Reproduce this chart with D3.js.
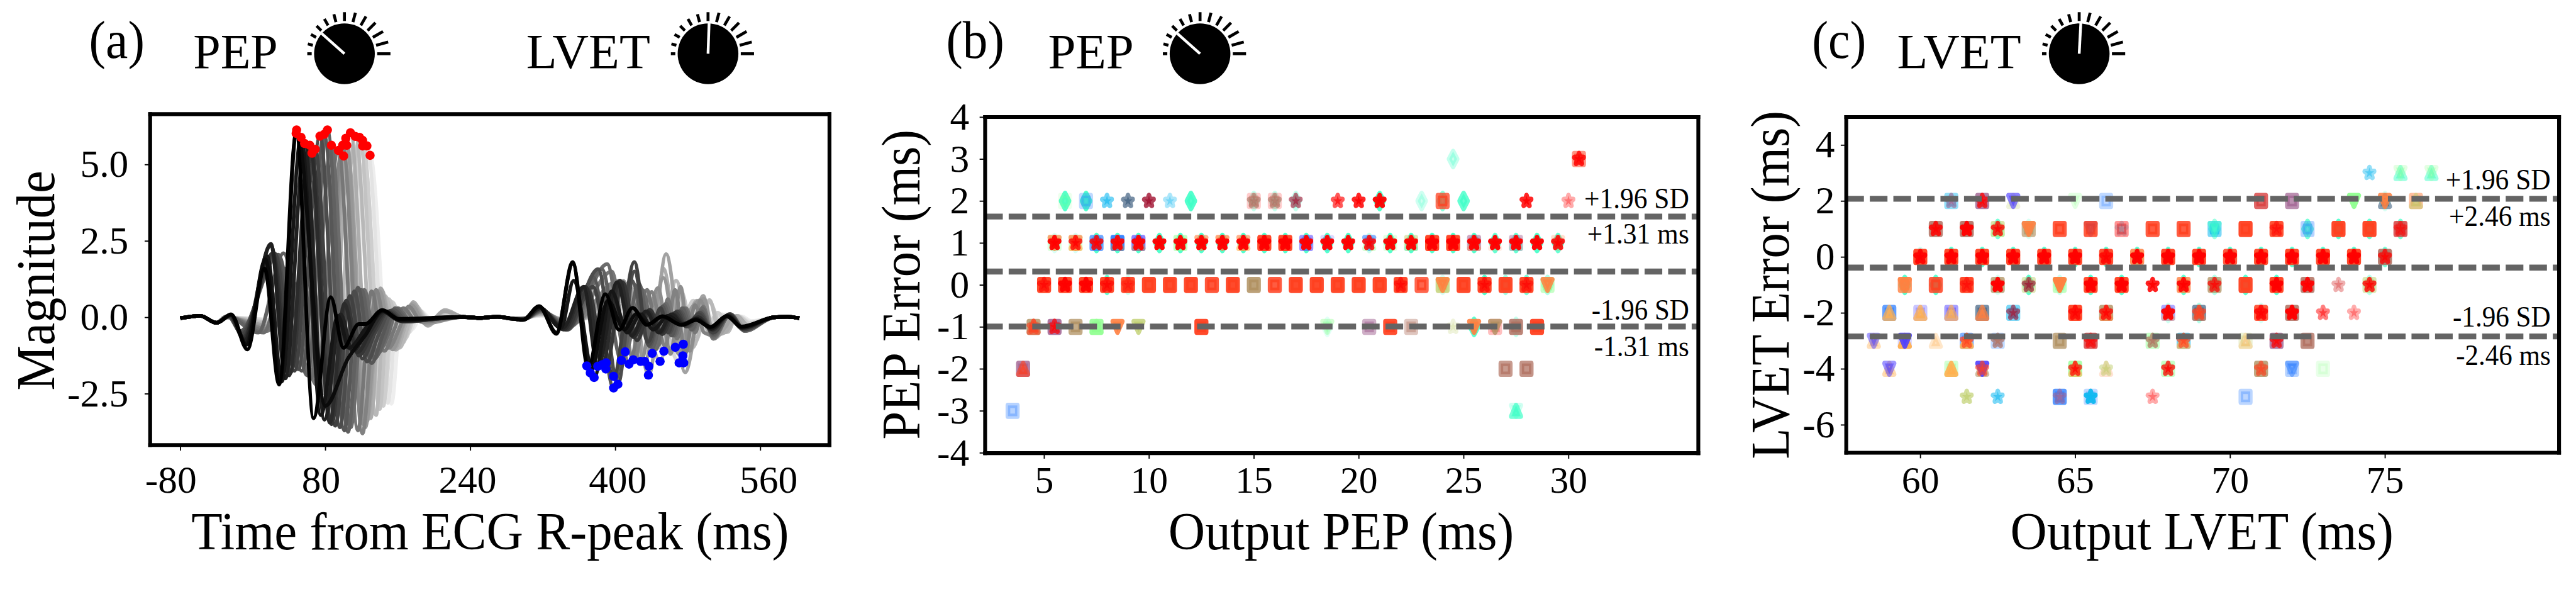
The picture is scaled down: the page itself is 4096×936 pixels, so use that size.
<!DOCTYPE html>
<html><head><meta charset="utf-8">
<script src="https://cdn.jsdelivr.net/npm/d3@7"></script>
<style>html,body{margin:0;padding:0;background:#fff}svg{display:block}text{font-family:"Liberation Serif","Times New Roman",serif;fill:#000}</style>
</head><body><svg id="c"></svg>
<script>
// ---------- Panel (a) data: time (ms), magnitude extrema of each beat, dark to light
const waveLead=[[-80,-.03],[-58,.05],[-40,-.18]];
const waveMid=[[232,.01],[250,-.02],[270,.02],[288,-.05]];
const waveTail=[[575,0],[590,.02],[603,-.03]];
const pepWaves=[
[[-24,.1],[-6,-1.05],[13,1.6],[29,-2.2],[47.8,6.02],[67,-3.3],[86,.66],[100,-1],[117,-.22],[124,-.22],[143,.24],[161,-.05]],
[[-24,.09],[-7,-.9],[14,1.9],[30,-2.1],[48.3,6.13],[80,-2.9],[105,-1.35],[125,-.55],[143,.22],[162,-.08]],
[[-24,.08],[-8,-.85],[16,2],[32,-2.1],[53.2,5.89],[75,-3.2],[94,.05],[106,-1],[126,-.3],[143,.2],[162,-.1]],
[[-24,.07],[-9,-.75],[20,2.4],[36,-2],[57.1,5.69],[79,-3.35],[97,.1],[110,-1.1],[128,-.35],[145,.2],[163,-.12]],
[[-25,.06],[-10,-.7],[20,2.35],[40,-1.9],[62.9,5.63],[85,-3.45],[101,.45],[115,-1.15],[131,-.4],[147,.2],[165,-.12]],
[[-25,.05],[-11,-.65],[22,2.1],[42,-1.8],[65.3,5.37],[87,-3.5],[103,.55],[117,-1.25],[133,-.45],[148,.18],[166,-.14]],
[[-26,.04],[-12,-.55],[24,2.1],[46,-1.75],[68.8,5.5],[91,-3.55],[107,.7],[121,-1.35],[135,-.5],[150,.2],[167,-.14]],
[[-26,.03],[-13,-.5],[25,2.05],[50,-1.7],[74.1,5.93],[96,-3.6],[112,.85],[126,-1.45],[139,-.55],[152,.22],[168,-.12]],
[[-27,.03],[-14,-.45],[28,2.05],[54,-1.75],[78.8,5.99],[101,-3.7],[116,.97],[131,-1.5],[143,-.6],[155,.25],[170,-.1]],
[[-28,.02],[6,-.5],[34,2.1],[60,-1.9],[82.3,6.13],[105,-3.75],[120,.9],[134,-1.35],[146,-.65],[157,.3],[172,-.1]],
[[-28,.02],[12,-.5],[36,1.6],[64,-2],[86.7,5.63],[108,-3.6],[123,.9],[137,-1.2],[149,-.6],[160,.3],[174,-.1]],
[[-30,.02],[16,-.45],[42,1.3],[70,-2.2],[94.4,5.46],[116,-3.7],[131,.85],[145,-1.1],[156,-.4],[166,.3],[180,-.1]],
[[-30,.01],[18,-.4],[46,1.1],[75,-2.3],[99.1,5.63],[121,-3.8],[136,.9],[150,-1],[161,-.4],[172,.35],[186,-.15]],
[[-30,.01],[20,-.4],[48,1],[77,-2.4],[100.2,5.28],[122,-3.5],[137,.75],[151,-.95],[162,-.35],[172,.35],[187,-.15]],
[[-30,.01],[20,-.35],[50,1],[79,-2.5],[102.6,5.86],[124,-3.6],[140,.85],[154,-1.05],[165,-.3],[175,.4],[190,-.2]],
[[-30,0],[22,-.3],[52,.9],[81,-2.5],[103.7,5.63],[126,-3.4],[141,.95],[156,-1.05],[166,-.3],[176,.45],[192,-.25],[211,.2]],
[[-30,0],[24,-.3],[56,.9],[85,-2.7],[107.7,6.04],[130,-3.3],[142,.9],[158,-1.06],[168,-.3],[177,.5],[193,-.28],[212,.24]],
[[-30,0],[26,-.25],[60,.8],[90,-2.7],[113.1,5.92],[136,-3.2],[146,.7],[162,-1],[171,-.3],[178,.45],[194,-.25],[212,.2]],
[[-30,0],[28,-.2],[64,.7],[94,-2.6],[117.7,5.89],[140,-3],[150,.6],[165,-.85],[173,-.25],[179,.4],[195,-.2],[213,.18]],
[[-30,0],[30,-.2],[68,.7],[98,-2.6],[121.2,5.79],[144,-2.9],[154,.5],[168,-.7],[175,-.2],[180,.35],[195,-.15],[213,.15]],
[[-30,0],[30,-.15],[68,.6],[98,-2.5],[121.2,5.61],[145,-2.7],[156,.4],[169,-.6],[176,-.15],[181,.3],[196,-.1],[214,.12]],
[[-30,0],[32,-.1],[72,.5],[102,-2.4],[125.9,5.61],[149,-2.8],[160,.3],[172,-.5],[179,-.1],[183,.25],[196,-.1],[214,.1]],
[[-30,0],[34,-.1],[76,.4],[106,-2.4],[129.4,5.3],[153,-2.83],[164,.2],[175,-.4],[182,-.1],[186,.2],[197,-.08],[215,.08]]
];
const lvetWaves=[
[[298,-.09],[316,.37],[335,-.54],[353,1.81],[370,-1.65],[389,.76],[404,-.41],[419,.31],[435,-.25],[452,.04],[473,-.25],[489,-.09],[505,-.31],[523,.04],[539,-.31]],
[[298,-.08],[316,.35],[335,-.5],[353,1.75],[372,-1.82],[392,.55],[410,-.4],[423,.1],[437,-.22],[452,.02],[473,-.25],[489,-.08],[505,-.33],[523,.03],[539,-.3]],
[[299,-.08],[316,.33],[340,-.35],[354,1.2],[376.6,-1.97],[396,.85],[413,-.5],[428,.1],[442,-.4],[458,.05],[474,-.22],[490,-.05],[506,-.36],[524,.05],[540,-.33]],
[[299,-.07],[317,.3],[342,-.35],[365,1],[380.6,-1.6],[402,1.15],[418,-.6],[434,.2],[448,-.5],[462,.1],[475,-.25],[490,-.05],[506,-.38],[524,.06],[540,-.35]],
[[299,-.07],[317,.3],[343,-.4],[367,1],[385.3,-1.55],[405,1.2],[420,-.65],[436,.2],[450,-.5],[464,.1],[476,-.25],[491,0],[507,-.4],[525,.08],[541,-.35]],
[[299,-.06],[317,.28],[345,-.4],[370,.9],[389.5,-1.69],[408,1.15],[424,-.75],[438,.25],[452,-.55],[466,.15],[477,-.25],[492,0],[507,-.42],[525,.08],[541,-.36]],
[[300,-.06],[317,.26],[346,-.4],[375,1],[398.1,-1.93],[421,1.81],[436,-.8],[450,.3],[458,-.5],[468,.2],[478,-.3],[492,.1],[508,-.5],[526,.1],[542,-.4]],
[[300,-.05],[318,.25],[347,-.4],[381,1.58],[402.8,-2.19],[421,1.5],[437,-.9],[450,.3],[460,-.5],[470,.2],[480,-.3],[493,.15],[508,-.5],[526,.1],[542,-.4]],
[[300,-.05],[318,.24],[348,-.4],[376,1.3],[398.1,-2.31],[418,1.2],[438,-.95],[452,.35],[462,-.6],[472,.2],[482,-.3],[494,.15],[508,-.55],[526,.1],[542,-.42]],
[[300,-.05],[318,.22],[349,-.35],[385,1.58],[406.7,-1.41],[426,1.1],[441,-1],[454,.4],[464,-.6],[474,.3],[484,-.4],[495,.2],[508,-.6],[527,.1],[543,-.42]],
[[300,-.05],[318,.2],[350,-.3],[391,1.74],[410.9,-1.13],[430,.9],[445,-1.05],[456,.45],[466,-.6],[476,.3],[486,-.4],[496,.3],[508,-.65],[527,.1],[543,-.45]],
[[300,-.05],[318,.2],[350,-.3],[396,1.5],[415.1,-1.53],[435,.9],[448,-.9],[458,.6],[468,-.7],[478,.3],[488,-.5],[497,.35],[508,-.7],[527,.1],[543,-.45]],
[[300,-.05],[318,.18],[350,-.25],[403,1.19],[419.8,-1.39],[440,.83],[455,-.95],[466,.9],[477,-1.2],[488,.4],[498,-.5],[510,-.6],[526,.08],[542,-.42]],
[[300,-.04],[318,.18],[350,-.2],[409,1.19],[427.9,-1.44],[447,.96],[461,-1.2],[472,1],[482,-1.1],[494,.55],[508,-.7],[524,.05],[541,-.4]],
[[300,-.04],[318,.15],[350,-.2],[412,1.1],[432.4,-1.44],[453,1.29],[470,-1.2],[484,.3],[498,.6],[509,-.7],[524,.02],[542,-.38]],
[[300,-.04],[318,.15],[350,-.18],[416,1],[437,-1.89],[456,2.07],[477,-1.8],[497,.7],[508,-.7],[522,-.3],[530,.05],[544,-.35]],
[[300,-.03],[318,.12],[350,-.15],[420,.9],[440.7,-1.18],[453,1.6],[470,-1],[490,.55],[506,-.6],[522,-.48],[534,.05],[548,-.3]],
[[300,-.03],[318,.12],[350,-.15],[425,.8],[449.4,-1.44],[467,1.2],[485,-1],[504,.57],[515,-.5],[524,-.48],[534,.05],[546,-.28]],
[[300,-.03],[318,.1],[350,-.12],[430,.7],[453.6,-1.11],[472,.9],[488,-.8],[504,.5],[518,-.4],[528,0],[545,-.25]],
[[300,-.02],[318,.08],[350,-.1],[440,.6],[466.2,-.98],[486,.55],[500,-.4],[513,.15],[525,-.3],[535,.05],[548,-.2]],
[[300,-.02],[318,.08],[350,-.08],[445,.6],[470.4,-1.49],[488,.45],[503,-.35],[515,.1],[526,-.25],[536,.05],[548,-.18]],
[[300,-.02],[318,.06],[350,-.06],[448,.5],[475,-.88],[492,.4],[506,-.3],[518,.1],[528,-.2],[537,.03],[549,-.15]],
[[300,-.02],[318,.05],[350,-.05],[450,.5],[475.5,-1.49],[497,.6],[510,-.3],[522,.1],[531,-.15],[540,.03],[550,-.12]]
];
const redPeaks=[[48.3,6.13],[47.8,6.02],[53.2,5.89],[57.1,5.69],[62.9,5.63],[68.8,5.5],[65.3,5.37],[74.1,5.93],[78.8,5.99],[82.3,6.13],[86.7,5.63],[94.4,5.46],[99.1,5.63],[100.2,5.28],[103.7,5.63],[102.6,5.86],[107.7,6.04],[113.1,5.92],[117.7,5.89],[121.2,5.79],[121.2,5.61],[125.9,5.61],[129.4,5.3]];
const blueTroughs=[[368.5,-1.59],[372.4,-1.82],[376.6,-1.97],[380.6,-1.6],[385.3,-1.55],[389.9,-1.49],[389.5,-1.69],[398.1,-1.93],[402.8,-2.19],[398.1,-2.31],[406.7,-1.41],[410.9,-1.13],[415.1,-1.53],[419.8,-1.39],[427.9,-1.44],[432.4,-1.44],[437,-1.6],[436.5,-1.89],[440.7,-1.18],[449.4,-1.44],[453.6,-1.11],[466.2,-.98],[475,-.88],[474.5,-1.26],[470.4,-1.49],[475.5,-1.49]];
const timeTicks=[-80,80,240,400,560];
const magTicks=[5,2.5,0,-2.5];
const magLabels=["5.0","2.5","0.0","-2.5"];

// ---------- marker colours
const palette={R:'#ff0000',O:'#ff4020',E:'#d84040',A:'#ff8040',Y:'#ffb050',T:'#40ffc8',B:'#3080ff',I:'#5040ff',C:'#10b8f0',G:'#90ff90',L:'#c0d070',N:'#b09060',M:'#a06090',W:'#406080',K:'#a01030',Z:'#b07060',P:'#ffc8a8'};

// ---------- Panel (b) data: [output PEP, error, colour, opacity]
const pepSquares=[[30.5,3,'O',.55],[6,2,'G',.15],[7,2,'B',.3],[15,2,'R',.2],[16,2,'R',.2],[24,2,'O',.75],
[5.5,1,'G',.3],[6.5,1,'G',.3],[7.5,1,'B',.7],[8.5,1,'B',.95],[9.5,1,'I',.65],[11.5,1,'G',.55],[15.5,1,'O',.95],[16.5,1,'O',.95],[17.5,1,'I',.55],[21.5,1,'G',.25],[22.5,1,'L',.5],[23.5,1,'O',.95],[24.5,1,'O',.95],[25.5,1,'M',.55],[27.5,1,'M',.45],
[5,0,'O',.95],[6,0,'O',.95],[7,0,'O',.95],[8,0,'O',.95],[9,0,'O',.95],[10,0,'O',.95],[11,0,'O',.95],[12,0,'O',.95],[13,0,'O',.88],[14,0,'O',.95],[15,0,'N',.85],[16,0,'O',.85],[17,0,'O',.95],[18,0,'O',.95],[19,0,'O',.95],[20,0,'O',.95],[21,0,'O',.95],[22,0,'O',.95],[23,0,'O',.8],[24,0,'L',.8],[25,0,'O',.95],[26,0,'O',.95],[27,0,'O',.95],[28,0,'O',.95],[29,0,'G',.5],
[4.5,-1,'N',.8],[5.5,-1,'M',.85],[6.5,-1,'N',.75],[7.5,-1,'G',.85],[12.5,-1,'O',.95],[20.5,-1,'M',.5],[21.5,-1,'O',.92],[22.5,-1,'Z',.4],[26.5,-1,'R',.25],[27.5,-1,'Z',.85],[28.5,-1,'O',.95],
[4,-2,'M',.8],[27,-2,'Z',.7],[28,-2,'Z',.75],[3.5,-3,'B',.35]];
const pepDiamonds=[[24.5,3,'T',.3],[6,2,'T',.9],[7,2,'T',.92],[12,2,'T',.9],[15,2,'T',.3],[16,2,'T',.3],[17,2,'T',.3],[21,2,'T',.9],[23,2,'T',.25],[24,2,'T',.6],[25,2,'T',.8],
[5.5,1,'T',.2],[6.5,1,'T',.2],[7.5,1,'T',.9],[8.5,1,'T',.9],[9.5,1,'T',.9],[10.5,1,'T',.9],[11.5,1,'T',.9],[12.5,1,'T',.9],[13.5,1,'T',.9],[14.5,1,'T',.9],[15.5,1,'T',.9],[16.5,1,'T',.9],[17.5,1,'T',.9],[18.5,1,'T',.9],[19.5,1,'T',.9],[20.5,1,'T',.3],[21.5,1,'T',.9],[22.5,1,'T',.9],[23.5,1,'T',.9],[24.5,1,'T',.9],[25.5,1,'T',.9],[26.5,1,'T',.8],[27.5,1,'T',.8],[28.5,1,'T',.9],[29.5,1,'T',.8],
[8,0,'T',.8],[9,0,'T',.25],[24,0,'T',.2],[26,0,'T',.9],[27,0,'T',.5],[28,0,'T',.7],[29,0,'T',.4],[18.5,-1,'T',.15],[25.5,-1,'T',.85],[27.5,-1,'T',.3]];
const pepUps=[[6.5,1,'Y',.7],[8.5,1,'N',.5],[9.5,1,'N',.6],[14.5,1,'Y',.6],[20.5,1,'G',.4],[22.5,1,'T',.4],[25.5,1,'A',.4],[26.5,1,'A',.15],[27.5,1,'T',.3],[4.5,-1,'O',.5],[7.5,-1,'G',.5],[4,-2,'O',.6],[27.5,-3,'T',.7]];
const pepDowns=[[5.5,1,'A',.7],[6.5,1,'A',.7],[12.5,1,'A',.6],[13.5,1,'A',.7],[14.5,1,'A',.6],[18.5,1,'I',.2],[20.5,1,'B',.6],[29.5,1,'A',.25],[24,0,'A',.85],[29,0,'A',.85],[8.5,-1,'A',.9],[9.5,-1,'L',.8],[18.5,-1,'G',.4],[25.5,-1,'A',.9],[26.5,-1,'N',.8],[27.5,-3,'T',.25]];
const pepStars=[[30.5,3,'R',.8],[8,2,'C',.6],[9,2,'W',.7],[10,2,'K',.8],[11,2,'C',.35],[15,2,'Z',.6],[16,2,'Z',.6],[17,2,'K',.6],[19,2,'R',.65],[20,2,'R',.85],[21,2,'R',.95],[28,2,'R',.85],[30,2,'R',.33],
[5.5,1,'R',.95],[6.5,1,'R',.78],[7.5,1,'R',.85],[8.5,1,'R',.92],[9.5,1,'R',.95],[10.5,1,'R',.97],[11.5,1,'R',.97],[12.5,1,'R',.97],[13.5,1,'R',.97],[14.5,1,'R',.97],[15.5,1,'R',.97],[16.5,1,'R',.97],[17.5,1,'R',.97],[18.5,1,'R',.97],[19.5,1,'R',.97],[20.5,1,'R',.85],[21.5,1,'R',.97],[22.5,1,'R',.97],[23.5,1,'R',.97],[24.5,1,'R',.97],[25.5,1,'R',.97],[26.5,1,'R',.97],[27.5,1,'R',.97],[28.5,1,'R',.97],[29.5,1,'R',.88],
[5,0,'R',.6],[6,0,'R',.95],[7,0,'R',.95],[8,0,'R',.65],[9,0,'R',.35],[22,0,'R',.6],[26,0,'R',.65],[28,0,'R',.55],[4.5,-1,'O',.6],[5.5,-1,'R',.7],[24.5,-1,'L',.25]];
const pepLimits=[1.63,.32,-.99];
const pepXTicks=[5,10,15,20,25,30];
const pepYTicks=[4,3,2,1,0,-1,-2,-3,-4];

// ---------- Panel (c) data: [output LVET, error, colour, opacity]
const lvetSquares=[[61,2,'C',.45],[62,2,'M',.8],[66,2,'B',.3],[71,2,'E',.8],[72,2,'M',.7],[76,2,'A',.5],
[60.5,1,'Z',.85],[61.5,1,'Z',.9],[62.5,1,'L',.6],[63.5,1,'N',.65],[64.5,1,'O',.85],[65.5,1,'O',.85],[66.5,1,'R',.42],[67.5,1,'O',.85],[68.5,1,'O',.85],[69.5,1,'C',.55],[70.5,1,'O',.95],[71.5,1,'O',.9],[72.5,1,'B',.35],[73.5,1,'O',.95],[74.5,1,'O',.95],[75.5,1,'E',.85],
[60,0,'O',.95],[61,0,'O',.95],[62,0,'O',.95],[63,0,'O',.95],[64,0,'O',.95],[65,0,'O',.95],[66,0,'O',.92],[67,0,'A',.85],[68,0,'O',.95],[69,0,'O',.95],[70,0,'O',.85],[71,0,'O',.92],[72,0,'O',.95],[73,0,'O',.95],[74,0,'O',.95],[75,0,'Z',.9],
[59.5,-1,'A',.8],[60.5,-1,'O',.85],[61.5,-1,'O',.95],[62.5,-1,'N',.75],[63.5,-1,'L',.5],[64.5,-1,'G',.55],[65.5,-1,'O',.92],[66.5,-1,'O',.95],[68.5,-1,'A',.8],[69.5,-1,'N',.75],[70.5,-1,'O',.95],[71.5,-1,'O',.95],[72.5,-1,'Z',.85],[74.5,-1,'L',.55],
[59,-2,'B',.75],[60,-2,'I',.3],[61,-2,'I',.5],[62,-2,'W',.7],[63,-2,'C',.55],[65,-2,'O',.95],[66,-2,'N',.8],[68,-2,'I',.45],[69,-2,'W',.7],[71,-2,'O',.85],[72,-2,'Z',.85],
[59.5,-3,'I',.2],[61.5,-3,'B',.6],[62.5,-3,'B',.3],[64.5,-3,'N',.75],[65.5,-3,'E',.85],[67.5,-3,'G',.5],[68.5,-3,'C',.6],[70.5,-3,'L',.3],[71.5,-3,'M',.8],[72.5,-3,'Z',.8],
[61,-4,'G',.4],[65,-4,'G',.75],[68,-4,'G',.5],[71,-4,'N',.8],[72,-4,'B',.35],[73,-4,'G',.2],
[64.5,-5,'B',.8],[65.5,-5,'B',.3],[70.5,-5,'B',.32]];
const lvetDiamonds=[[62.5,1,'T',.7],[63.5,1,'T',.2],[69.5,1,'T',.5],[72.5,1,'T',.7],[73.5,1,'T',.85],[74.5,1,'T',.8],[75.5,1,'T',.7],
[60,0,'T',.25],[61,0,'T',.85],[62,0,'T',.85],[63,0,'T',.85],[64,0,'T',.85],[65,0,'T',.85],[66,0,'T',.85],[67,0,'T',.85],[68,0,'T',.85],[69,0,'T',.85],[70,0,'T',.85],[71,0,'T',.85],[72,0,'T',.85],[73,0,'T',.85],[74,0,'T',.85],[75,0,'T',.7],
[59.5,-1,'T',.85],[60.5,-1,'T',.85],[62.5,-1,'T',.2],[63.5,-1,'T',.85],[64.5,-1,'T',.25],[65.5,-1,'T',.85],[66.5,-1,'T',.85],[68.5,-1,'T',.8],[69.5,-1,'T',.4],[70.5,-1,'T',.85],[71.5,-1,'T',.85],[74.5,-1,'T',.35],
[68,-2,'T',.25],[69,-2,'T',.4],[71,-2,'T',.2],[75,2,'T',.2]];
const lvetUps=[[75.5,3,'T',.5],[76.5,3,'T',.5],[63,2,'L',.25],[75,2,'W',.6],[76,2,'L',.5],[62.5,1,'G',.4],[59,-2,'Y',.75],[60,-2,'Y',.75],[61,-2,'Y',.65],[62,-2,'A',.75],[66,-2,'A',.6],[68,-2,'Y',.4],[69,-2,'A',.4],
[58.5,-3,'Y',.4],[59.5,-3,'Y',.95],[60.5,-3,'Y',.3],[61.5,-3,'Y',.9],[68.5,-3,'Y',.7],[70.5,-3,'Y',.3],[59,-4,'Y',.45],[61,-4,'Y',.9],[62,-4,'N',.6],[65,-4,'Y',.6],[66,-4,'P',.5]];
const lvetDowns=[[75.5,3,'G',.25],[76.5,3,'G',.25],[63,2,'I',.65],[65,2,'G',.25],[74,2,'G',.95],[75,2,'A',.85],[63.5,1,'A',.85],[69.5,1,'T',.5],[65.5,1,'E',.5],[59.5,-1,'A',.7],[64.5,-1,'A',.97],[72,-4,'B',.5],[58.5,-3,'I',.5],[59.5,-3,'I',.9],[59,-4,'I',.55],[62,-4,'I',.9]];
const lvetStars=[[74.5,3,'C',.45],[61,2,'M',.6],[62,2,'R',.75],[60.5,1,'R',.85],[61.5,1,'R',.97],[62.5,1,'R',.8],[66.5,1,'W',.2],[71.5,1,'R',.5],[75.5,1,'R',.5],
[60,0,'R',.9],[61,0,'R',.97],[62,0,'R',.97],[63,0,'R',.97],[64,0,'R',.97],[65,0,'R',.97],[66,0,'R',.8],[67,0,'R',.97],[68,0,'R',.97],[69,0,'R',.97],[70,0,'R',.97],[71,0,'R',.97],[72,0,'R',.97],[73,0,'R',.97],[74,0,'R',.97],[75,0,'R',.75],
[61.5,-1,'R',.5],[62.5,-1,'R',.97],[63.5,-1,'K',.65],[65.5,-1,'R',.97],[66.5,-1,'R',.97],[67.5,-1,'R',.88],[68.5,-1,'R',.9],[69.5,-1,'R',.7],[71.5,-1,'R',.97],[72.5,-1,'R',.92],[73.5,-1,'E',.42],[74.5,-1,'R',.8],
[63,-2,'K',.62],[65,-2,'R',.75],[66,-2,'R',.75],[68,-2,'R',.95],[69,-2,'O',.75],[71,-2,'R',.8],[72,-2,'R',.97],[73,-2,'R',.5],[74,-2,'R',.32],
[61.5,-3,'O',.7],[62.5,-3,'Z',.7],[65.5,-3,'R',.6],[67.5,-3,'Z',.7],[68.5,-3,'O',.65],[71.5,-3,'R',.7],
[62,-4,'O',.65],[65,-4,'R',.7],[66,-4,'L',.5],[68,-4,'R',.75],[71,-4,'O',.65],
[61.5,-5,'L',.7],[62.5,-5,'C',.55],[64.5,-5,'M',.55],[65.5,-5,'C',.95],[67.5,-5,'R',.33]];
const lvetLimits=[2.08,-.38,-2.84];
const lvetXTicks=[60,65,70,75];
const lvetYTicks=[4,2,0,-2,-4,-6];

// ---------- Knobs: [centre x, needle angle in degrees]
const knobTicks=[180,165,150,135,120,105,90,75,60,45,30,15,0];
const knobs=[[936,138.3],[1924,88],[3261,138.3],[5650,87]];

// ---------- drawing
const svg=d3.select('#c').attr('width',4096).attr('height',936).attr('viewBox','0 0 7000 1600').attr('preserveAspectRatio','none');
svg.append('rect').attr('width',7000).attr('height',1600).attr('fill','#fff');

function label(x,y,str,size,len,anchor,rot){
  const t=svg.append('text').text(str).attr('font-size',size).attr('text-anchor',anchor||'start');
  if(rot) t.attr('transform',`translate(${x},${y}) rotate(-90)`); else t.attr('x',x).attr('y',y);
  if(len) t.attr('textLength',len).attr('lengthAdjust','spacingAndGlyphs');
  return t;
}
function frame(f,xs,ys,xt,yt,opts){
  const gx=svg.append('g').attr('transform',`translate(0,${f.b})`).call(d3.axisBottom(xs).tickValues(xt).tickSize(15).tickFormat((d,i)=>opts.xFmt?opts.xFmt[i]:String(d)));
  const gy=svg.append('g').attr('transform',`translate(${f.l},0)`).call(d3.axisLeft(ys).tickValues(yt).tickSize(15).tickFormat((d,i)=>opts.yFmt?opts.yFmt[i]:String(d)));
  [gx,gy].forEach(g=>{g.select('.domain').remove();g.selectAll('line').attr('stroke','#000').attr('stroke-width',3.2);g.attr('font-family',null);});
  gx.selectAll('text').attr('font-size',opts.xSize||102).attr('dy',0).attr('y',1339-f.b).attr('x',(d,i)=>opts.xShift?opts.xShift[i]:0);
  gy.selectAll('text').attr('font-size',105).attr('dy','.32em').attr('x',opts.yEnd-f.l);
}
function spines(f){
  const g=svg.append('g').attr('stroke','#000').attr('stroke-width',10.5).attr('stroke-linecap','square');
  [[f.l,f.t,f.r,f.t],[f.l,f.b,f.r,f.b],[f.l,f.t,f.l,f.b],[f.r,f.t,f.r,f.b]].forEach(s=>g.append('line').attr('x1',s[0]).attr('y1',s[1]).attr('x2',s[2]).attr('y2',s[3]));
}
// Marker shapes follow matplotlib's unit paths; size sets the square side squared.
const poly=pts=>({draw(c,s){const r=Math.sqrt(s)/2;pts.forEach((p,i)=>i?c.lineTo(p[0]*r,p[1]*r):c.moveTo(p[0]*r,p[1]*r));c.closePath();}});
const shapes={
  square:poly([[-1,-1],[1,-1],[1,1],[-1,1]]),
  diamond:poly([[0,-1.414],[.85,0],[0,1.414],[-.85,0]]),
  up:poly([[0,-1],[1,1],[-1,1]]),
  down:poly([[0,1],[1,-1],[-1,-1]]),
  star:d3.symbolStar
};
const MARK=25.5;
function markers(xs,ys,rows,shape){
  const size=shape==='star'?(MARK/2*1.03)*(MARK/2*1.03)/0.8908:MARK*MARK;
  const gen=d3.symbol().type(shapes[shape]).size(size);
  svg.append('g').selectAll('path').data(rows).join('path').attr('d',gen)
    .attr('transform',d=>`translate(${xs(d[0])},${ys(d[1])}) scale(1,1.15)`)
    .attr('fill',d=>palette[d[2]]).attr('stroke',d=>palette[d[2]])
    .attr('fill-opacity',d=>d[3]).attr('stroke-opacity',d=>d[3])
    .attr('stroke-width',12.7).attr('stroke-linejoin','round');
}
function limits(f,ys,vals){
  svg.append('g').selectAll('line').data(vals).join('line').attr('x1',f.l).attr('x2',f.r-3).attr('y1',d=>ys(d)).attr('y2',d=>ys(d))
    .attr('stroke','#646464').attr('stroke-width',16).attr('stroke-dasharray','48 16');
}
function knob(k){
  const g=svg.append('g').attr('transform',`translate(${k[0]},146)`);
  g.append('circle').attr('r',82.5).attr('fill','#000');
  g.selectAll('line.t').data(knobTicks).join('line').attr('class','t')
    .attr('x1',d=>89*Math.cos(d*Math.PI/180)).attr('y1',d=>-89*Math.sin(d*Math.PI/180))
    .attr('x2',(d,i)=>(101+i*2)*Math.cos(d*Math.PI/180)).attr('y2',(d,i)=>-(101+i*2)*Math.sin(d*Math.PI/180))
    .attr('stroke','#000').attr('stroke-width',8);
  g.append('line').attr('x1',0).attr('y1',0).attr('x2',83*Math.cos(k[1]*Math.PI/180)).attr('y2',-83*Math.sin(k[1]*Math.PI/180)).attr('stroke','#fff').attr('stroke-width',7.5);
}
knobs.forEach(knob);

// Panel a
const fa={l:408,r:2254,t:310,b:1209};
const xa=d3.scaleLinear().domain([-113.3,636.3]).range([fa.l,fa.r]);
const ya=d3.scaleLinear().domain([-4.18,6.65]).range([fa.b,fa.t]);
frame(fa,xa,ya,timeTicks,magTicks,{yFmt:magLabels,yEnd:349,xSize:105,xShift:[-26,-12,-8,6,22]});
const line=d3.line().x(d=>xa(d[0])).y(d=>ya(d[1])).curve(d3.curveMonotoneX);
const order=d3.range(pepWaves.length).reverse();
const grey=d3.scaleLinear().domain([0,pepWaves.length-1]).range([0,238]);
svg.append('g').selectAll('path').data(order).join('path')
  .attr('d',i=>line([...waveLead,...pepWaves[i],...waveMid,...lvetWaves[i],...waveTail]))
  .attr('fill','none').attr('stroke-width',10).attr('stroke-linejoin','round')
  .attr('stroke',i=>{const g=Math.round(grey(i));return `rgb(${g},${g},${g})`;});
const dots=(rows,c)=>svg.append('g').selectAll('circle').data(rows).join('circle').attr('cx',d=>xa(d[0])).attr('cy',d=>ya(d[1])).attr('r',12.5).attr('fill',c);
dots(redPeaks,'#ff0000');dots(blueTroughs,'#0000ff');
spines(fa);

// Panel b
const fb={l:2677,r:4615,t:318,b:1231};
const xb=d3.scaleLinear().domain([2.19,36.19]).range([fb.l,fb.r]);
const yb=d3.scaleLinear().domain([-4,4]).range([1230,318]);
frame(fb,xb,yb,pepXTicks,pepYTicks,{yEnd:2634});
[[pepDiamonds,'diamond'],[pepSquares,'square'],[pepUps,'up'],[pepDowns,'down'],[pepStars,'star']].forEach(s=>markers(xb,yb,s[0],s[1]));
limits(fb,yb,pepLimits);
spines(fb);

// Panel c
const fc={l:5017,r:6954,t:318,b:1230};
const xc=d3.scaleLinear().domain([57.61,80.62]).range([fc.l,fc.r]);
const yc=d3.scaleLinear().domain([-7,5]).range([1230,318]);
frame(fc,xc,yc,lvetXTicks,lvetYTicks,{yEnd:4986});
[[lvetDiamonds,'diamond'],[lvetSquares,'square'],[lvetUps,'up'],[lvetDowns,'down'],[lvetStars,'star']].forEach(s=>markers(xc,yc,s[0],s[1]));
limits(fc,yc,lvetLimits);
spines(fc);

// Text
label(242,158,'(a)',145,151);label(525,184,'PEP',135,230);label(1430,184,'LVET',135,337);
label(2571,158,'(b)',145,158);label(2848,184,'PEP',135,233);
label(4924,158,'(c)',145,147);label(5155,184,'LVET',135,337);
label(520,1492,'Time from ECG R-peak (ms)',144,1624);
label(3175,1492,'Output PEP (ms)',144,939);
label(5463,1492,'Output LVET (ms)',144,1041);
label(147,762,'Magnitude',150,597,'middle',true);
label(2499,773,'PEP Error (ms)',150,842,'middle',true);
label(4861,774,'LVET Error (ms)',150,946,'middle',true);
const notes=[[4305,566.5,'+1.96 SD',285],[4313,661.6,'+1.31 ms',277],[4325,869,'-1.96 SD',265],[4332,967,'-1.31 ms',258],
[6646,514.5,'+1.96 SD',285],[6655,613,'+2.46 ms',276],[6665,888,'-1.96 SD',266],[6674,991,'-2.46 ms',257]];
notes.forEach(n=>label(n[0],n[1],n[2],81,n[3]));
</script></body></html>
